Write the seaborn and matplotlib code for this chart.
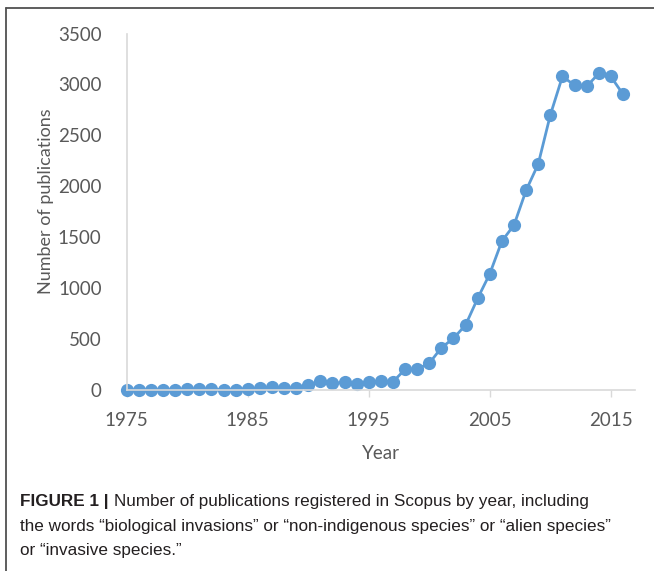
import numpy as np
import pandas as pd
import seaborn as sns
import matplotlib.pyplot as plt
from matplotlib.lines import Line2D

# publications per year
years = list(range(1975, 2017))
pubs = [2, 2, 3, 3, 2, 7, 7, 7, 4, 4, 13, 16, 26, 16, 23,
        46, 88, 65, 75, 55, 75, 90, 80, 203, 205,
        262, 415, 507, 638, 900, 1141, 1462, 1619, 1960, 2218,
        2699, 3078, 2993, 2980, 3108, 3078, 2905]
xticks = [1975, 1985, 1995, 2005, 2015]
yticks = [0, 500, 1000, 1500, 2000, 2500, 3000, 3500]

caption = ["Number of publications registered in Scopus by year, including",
           "the words \u201cbiological invasions\u201d or \u201cnon-indigenous species\u201d or \u201calien species\u201d",
           "or \u201cinvasive species.\u201d"]

df = pd.DataFrame({"Year": years, "Publications": pubs})

sns.set_style("white")
plt.rcParams['font.family'] = ['Lato', 'DejaVu Sans']

fig = plt.figure(figsize=(6.54, 5.71), dpi=100)
ax = fig.add_axes([0.1937, 0.317, 0.7773, 0.6243])

blue = "#5B9BD5"
sns.lineplot(data=df, x="Year", y="Publications", ax=ax,
             color=blue, linewidth=2, marker="o", markersize=9.5,
             markeredgecolor=blue, markeredgewidth=0, clip_on=False)

ax.set_xlim(1975, 2017)
ax.set_ylim(0, 3500)
ax.set_xticks(xticks)
ax.set_yticks(yticks)

for s in ["top", "right"]:
    ax.spines[s].set_visible(False)
for s in ["left", "bottom"]:
    ax.spines[s].set_color("#D9D9D9")
    ax.spines[s].set_linewidth(1.2)

grey = "#595959"
ax.tick_params(axis="x", direction="out", length=5, width=1,
               color="#D9D9D9", labelsize=13.5, labelcolor=grey, pad=11)
ax.tick_params(axis="y", length=0, labelsize=13.5, labelcolor=grey, pad=18)
ax.tick_params(bottom=True, left=False)

ax.set_xlabel("Year", fontsize=13.5, color=grey)
ax.set_ylabel("Number of publications", fontsize=13, color=grey)
ax.xaxis.set_label_coords(0.5, -0.155)
ax.yaxis.set_label_coords(-0.142, 0.53)

# figure frame
frame = "#505050"
fig.add_artist(Line2D([6 / 654, 1], [1 - 8 / 571, 1 - 8 / 571],
                      transform=fig.transFigure, color=frame, lw=1.3))
fig.add_artist(Line2D([6 / 654, 6 / 654], [0, 1 - 8 / 571],
                      transform=fig.transFigure, color=frame, lw=1.3))

# caption
cap_font = ['Liberation Sans', 'DejaVu Sans']
cap_col = "#231F20"
cap_size = 12.3
tops = [494, 518.5, 543]
bold = fig.text(20 / 654, 1 - tops[0] / 571, "FIGURE 1 |", fontsize=cap_size,
                fontweight="bold", color=cap_col, family=cap_font, va="top")
fig.canvas.draw()
bb = bold.get_window_extent().transformed(fig.transFigure.inverted())
fig.text(bb.x1 + 5 / 654, 1 - tops[0] / 571, caption[0],
         fontsize=cap_size, color=cap_col, family=cap_font, va="top")
for line, t in zip(caption[1:], tops[1:]):
    fig.text(20 / 654, 1 - t / 571, line,
             fontsize=cap_size, color=cap_col, family=cap_font, va="top")

plt.savefig("out.png", dpi=100)
